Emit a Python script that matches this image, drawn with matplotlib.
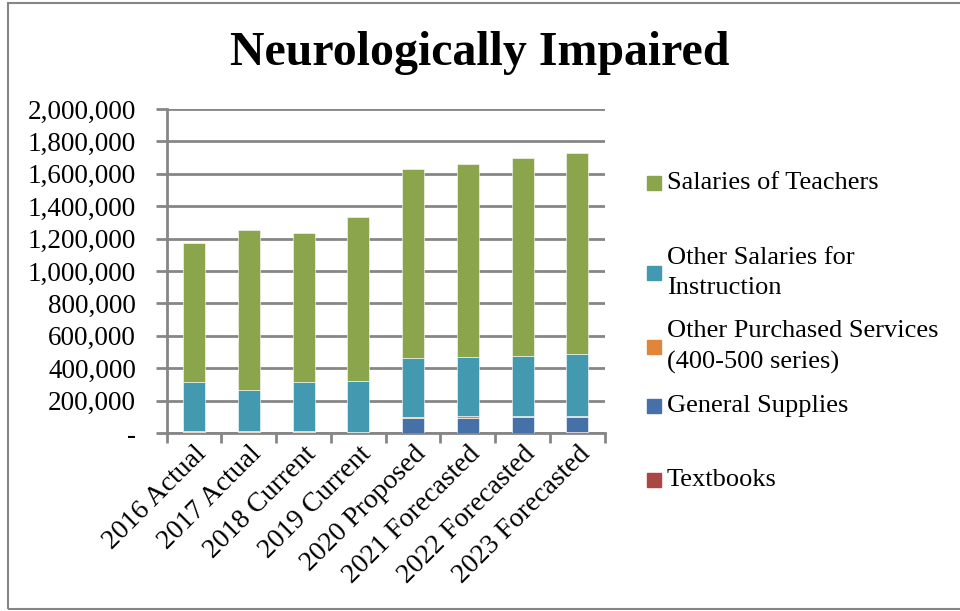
import matplotlib
matplotlib.use('Agg')
from matplotlib import pyplot as plt
from matplotlib.patches import Rectangle
from matplotlib.ticker import FuncFormatter
import numpy as np

# Section 1: data
years = ['2016 Actual', '2017 Actual', '2018 Current', '2019 Current',
         '2020 Proposed', '2021 Forecasted', '2022 Forecasted', '2023 Forecasted']
textbooks = [3000, 3000, 3000, 2000, 3000, 3000, 3000, 5000]
general_supplies = [5000, 5000, 5000, 3000, 90000, 92000, 93000, 95000]
purchased_services = [2000, 2000, 2000, 1000, 8000, 10000, 10000, 8000]
other_salaries = [303000, 253000, 303000, 313000, 359000, 363000, 372000, 379000]
teacher_salaries = [858000, 993000, 922000, 1013000, 1169000, 1194000, 1217000, 1243000]

series = [
    ('Textbooks', textbooks, '#aa4643'),
    ('General Supplies', general_supplies, '#4571a8'),
    ('Other Purchased Services\n(400-500 series)', purchased_services, '#e1853a'),
    ('Other Salaries for\nInstruction', other_salaries, '#4299b0'),
    ('Salaries of Teachers', teacher_salaries, '#8aa54b'),
]

plt.rcParams['font.family'] = ['Liberation Serif', 'DejaVu Serif']
grey = '#868686'

# Section 2: stacked bars
fig = plt.figure(figsize=(9.6, 6.11), dpi=100)
ax = fig.add_axes([0.1736, 0.2913, 0.4564, 0.5303])

x = np.arange(len(years))
bottom = np.zeros(len(years))
for name, vals, col in series:
    ax.bar(x, vals, width=0.4, bottom=bottom, color=col, edgecolor='#ffffff',
           linewidth=0.4, zorder=3)
    bottom += np.array(vals)

ax.set_xlim(-0.5, len(years) - 0.5)
ax.set_ylim(0, 2000000)
ax.set_yticks(np.arange(0, 2000001, 200000))
ax.yaxis.set_major_formatter(FuncFormatter(lambda v, p: '-' if v == 0 else '{:,.0f}'.format(v)))
ax.grid(axis='y', color=grey, linewidth=2, zorder=0)

ax.set_xticks(x)
ax.set_xticklabels(years, rotation=45, ha='right', rotation_mode='anchor', fontsize=20)
ax.set_xticks(np.arange(-0.5, len(years)), minor=True)
ax.tick_params(axis='x', which='major', length=0, pad=6)
ax.tick_params(axis='x', which='minor', length=7, width=2, color=grey)
ax.tick_params(axis='y', length=8, width=2, color=grey, labelsize=19.5, pad=14)

for s in ['top', 'right']:
    ax.spines[s].set_visible(False)
for s in ['left', 'bottom']:
    ax.spines[s].set_color(grey)
    ax.spines[s].set_linewidth(2)

fig.text(0.5, 0.914, 'Neurologically Impaired', ha='center', va='center',
         fontsize=34.5, fontweight='bold')

# Section 3: legend laid out like the Excel one
legend_y = [183, 273, 347, 406, 480]
for (name, vals, col), yy in zip(series[::-1], legend_y):
    fy = 1 - yy / 611
    fig.patches.append(Rectangle((647 / 960, fy - 7 / 611), 14 / 960, 14 / 611,
                                 transform=fig.transFigure, color=col))
    fig.text(667 / 960, fy, name, ha='left', va='center', fontsize=19,
             linespacing=1.45)

fig.patches.append(Rectangle((8 / 960, 2 / 611), 1.0, 606 / 611, transform=fig.transFigure,
                             fill=False, edgecolor=grey, linewidth=1.5))

fig.savefig('out.png', dpi=100)
